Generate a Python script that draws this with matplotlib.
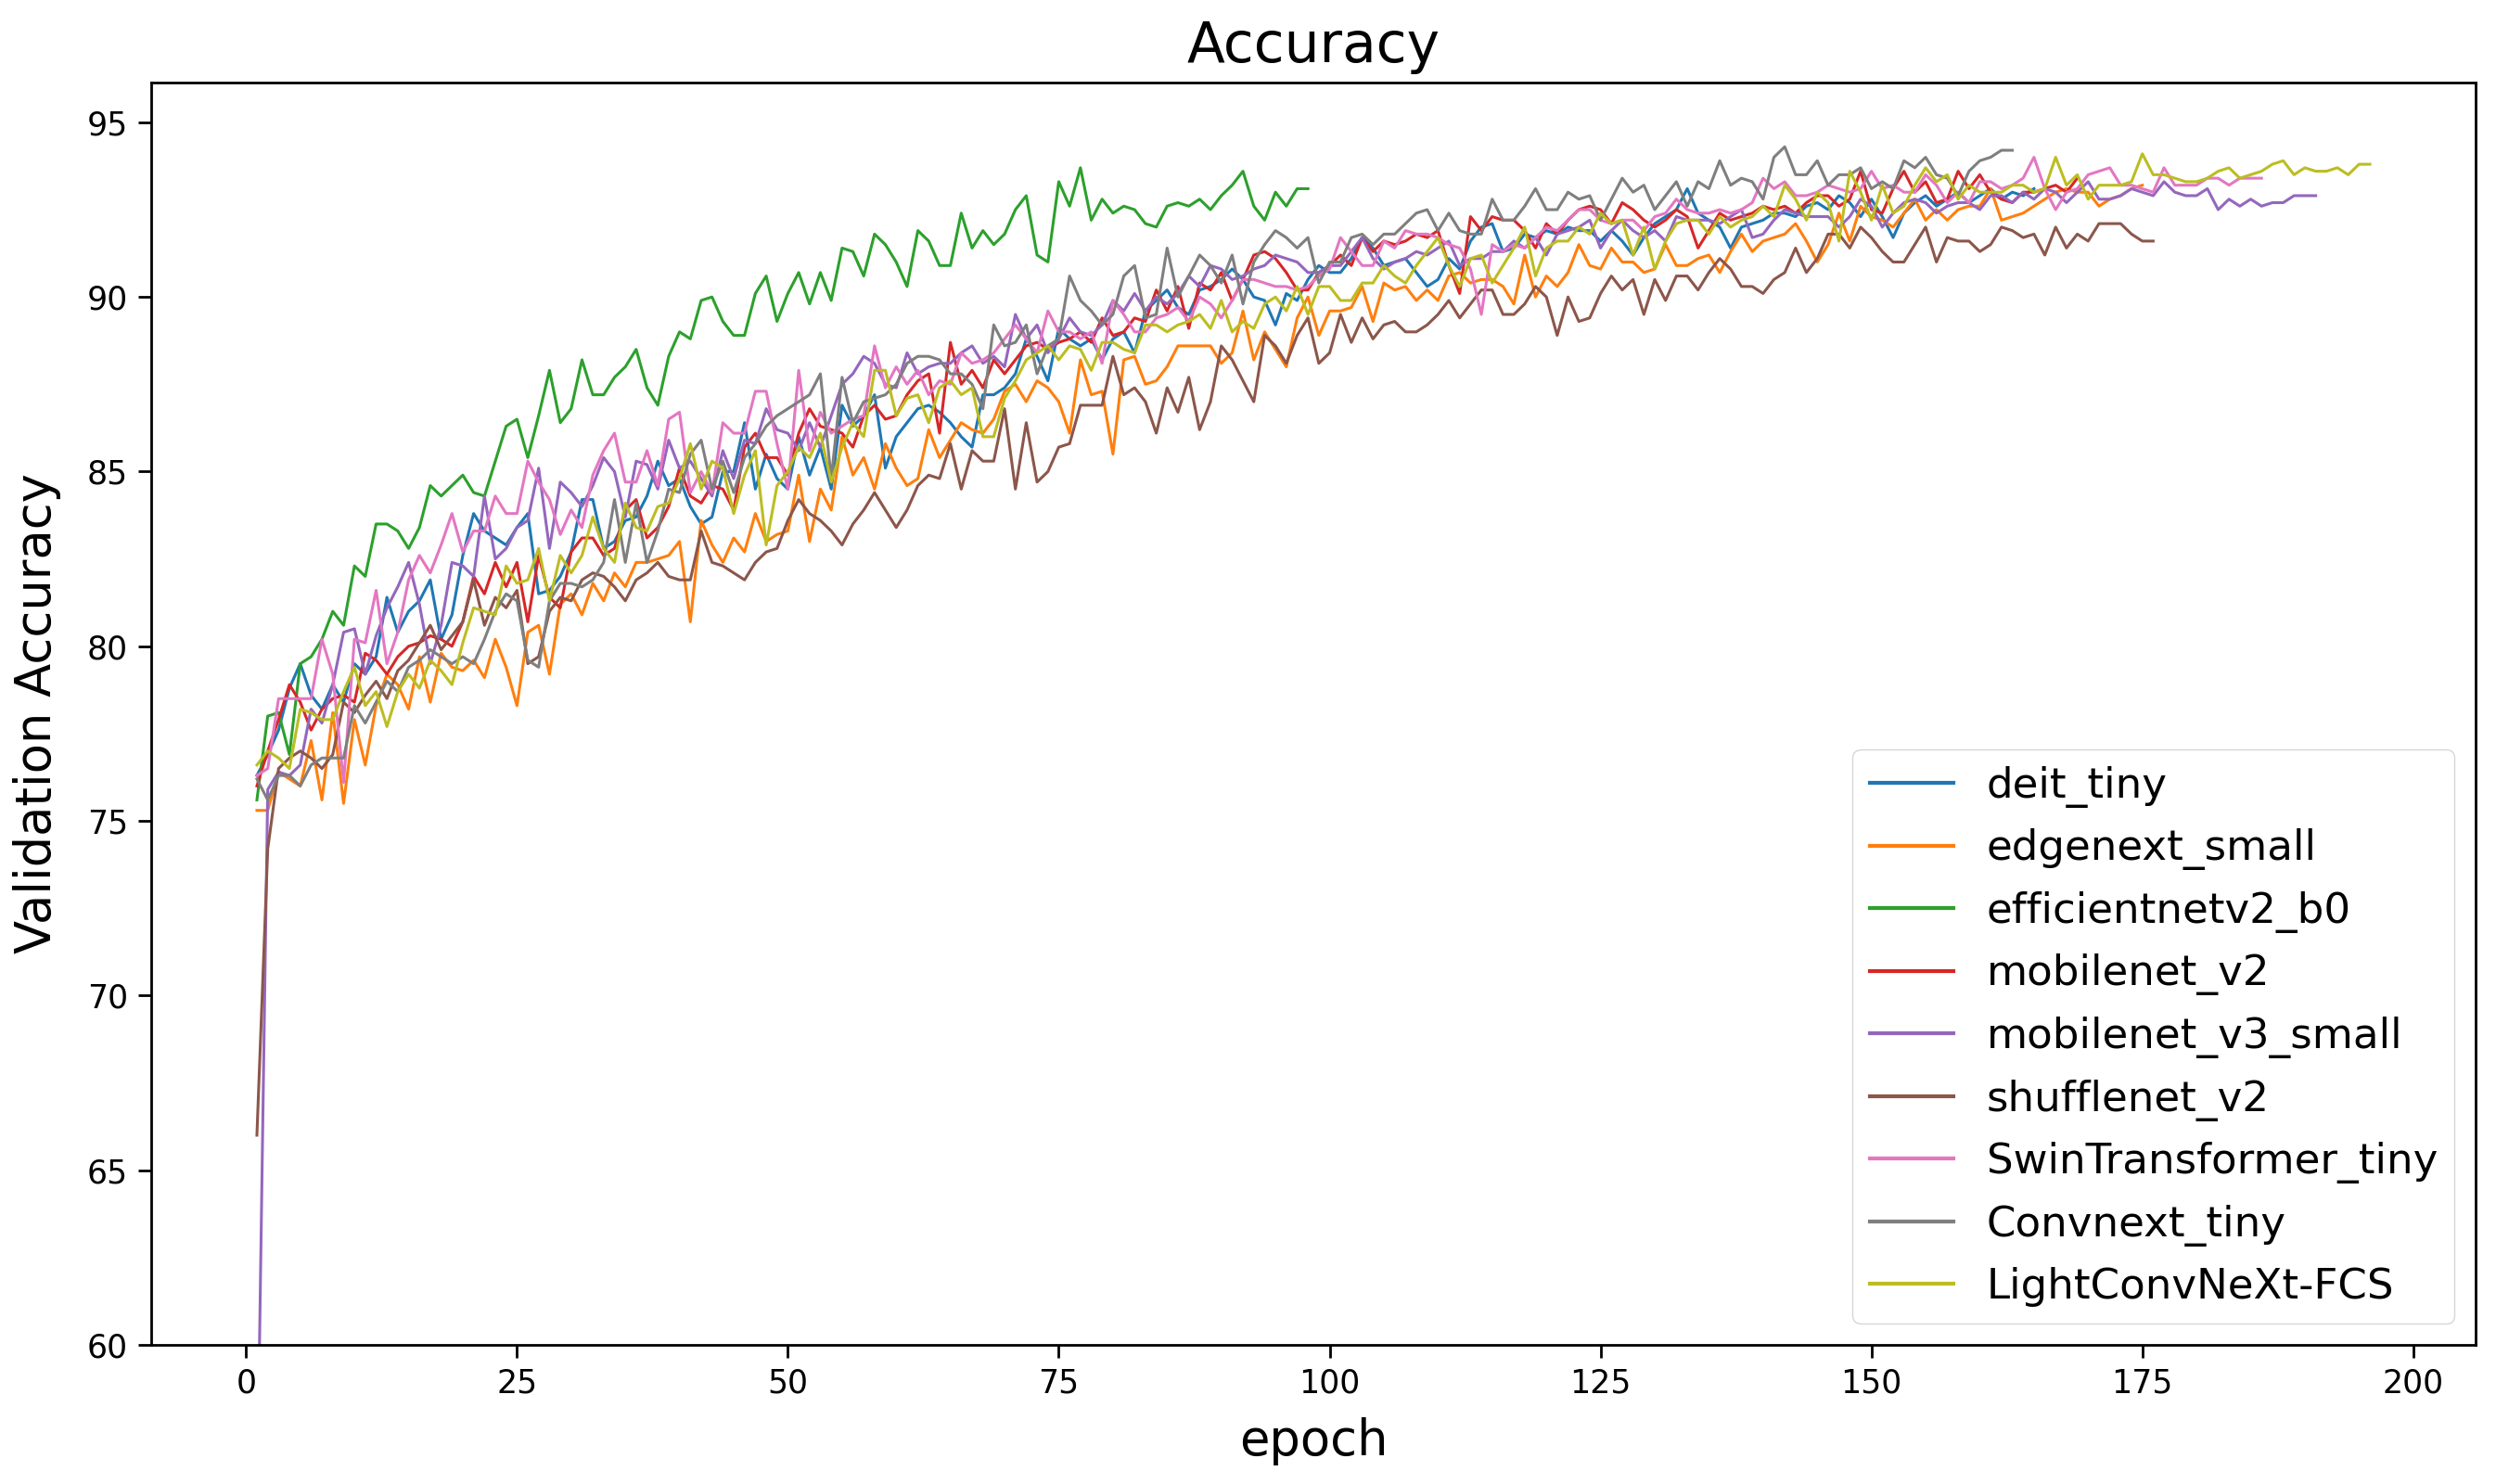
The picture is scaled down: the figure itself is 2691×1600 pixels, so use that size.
import matplotlib
matplotlib.use("Agg")
import matplotlib.pyplot as plt

# validation accuracy per epoch
deit_tiny = [
    76.3, 76.9, 77.6, 78.8, 79.5, 78.6, 78.2, 78.9, 78.4, 79.5,
    79.2, 79.7, 81.4, 80.4, 81.0, 81.3, 81.9, 80.2, 80.9, 82.6,
    83.8, 83.3, 83.1, 82.9, 83.4, 83.8, 81.5, 81.6, 82.0, 82.7,
    84.2, 84.2, 82.8, 83.0, 83.6, 83.7, 84.3, 85.3, 84.6, 84.8,
    84.0, 83.5, 83.7, 85.0, 85.0, 86.4, 84.5, 85.5, 84.8, 84.5,
    86.0, 84.9, 85.7, 84.5, 86.9, 86.3, 86.6, 87.2, 85.1, 86.0,
    86.4, 86.8, 86.9, 86.7, 86.4, 86.0, 85.7, 87.2, 87.2, 87.4,
    87.8, 88.8, 88.3, 87.6, 89.1, 88.8, 88.6, 88.8, 88.2, 88.8,
    89.0, 88.4, 89.6, 89.9, 90.2, 89.7, 89.5, 90.2, 90.3, 90.5,
    90.8, 90.5, 90.0, 89.9, 89.2, 90.1, 89.9, 90.5, 90.9, 90.7,
    90.7, 91.1, 91.7, 91.4, 90.9, 91.0, 91.1, 90.7, 90.3, 90.5,
    91.1, 90.8, 91.6, 92.0, 92.1, 91.3, 91.4, 91.8, 91.7, 91.9,
    91.8, 92.0, 91.9, 91.9, 91.6, 91.9, 91.6, 91.2, 91.7, 92.1,
    92.3, 92.5, 93.1, 92.4, 92.2, 92.0, 91.4, 92.0, 92.1, 92.2,
    92.4, 92.4, 92.3, 92.6, 92.7, 92.5, 92.9, 92.7, 92.3, 92.8,
    92.3, 91.7, 92.4, 92.7, 92.9, 92.6, 92.8, 93.0, 92.7, 92.9,
    93.1, 92.8, 93.0, 92.9, 93.1,
]

edgenext_small = [
    75.3, 75.3, 76.4, 76.2, 76.0, 77.3, 75.6, 78.1, 75.5, 77.9,
    76.6, 78.3, 79.2, 78.9, 78.2, 79.7, 78.4, 79.8, 79.4, 79.3,
    79.6, 79.1, 80.2, 79.4, 78.3, 80.4, 80.6, 79.2, 81.2, 81.5,
    80.9, 81.8, 81.3, 82.1, 81.7, 82.4, 82.4, 82.5, 82.6, 83.0,
    80.7, 83.6, 82.9, 82.4, 83.1, 82.7, 83.8, 83.0, 83.2, 83.3,
    84.9, 83.0, 84.5, 83.9, 86.0, 84.9, 85.4, 84.5, 85.8, 85.1,
    84.6, 84.8, 86.2, 85.4, 85.9, 86.4, 86.2, 86.1, 86.5, 87.3,
    87.5, 87.0, 87.6, 87.4, 87.0, 86.1, 88.2, 87.2, 87.3, 85.5,
    88.2, 88.3, 87.5, 87.6, 88.0, 88.6, 88.6, 88.6, 88.6, 88.1,
    88.4, 89.6, 88.2, 89.0, 88.5, 88.0, 89.4, 90.0, 88.9, 89.6,
    89.6, 89.7, 90.3, 89.3, 90.4, 90.2, 90.3, 89.9, 90.2, 89.9,
    90.6, 90.7, 90.4, 90.5, 90.5, 90.3, 89.8, 91.2, 90.0, 90.6,
    90.3, 90.7, 91.5, 90.9, 90.8, 91.4, 91.0, 91.0, 90.7, 90.8,
    91.5, 90.9, 90.9, 91.1, 91.2, 90.7, 91.3, 91.8, 91.3, 91.6,
    91.7, 91.8, 92.1, 91.6, 91.0, 91.5, 92.4, 91.6, 92.6, 92.3,
    92.2, 92.0, 92.4, 92.8, 92.2, 92.5, 92.2, 92.5, 92.6, 92.6,
    93.1, 92.2, 92.3, 92.4, 92.6, 92.8, 93.0, 93.1, 93.0, 93.0,
    92.6, 92.8, 92.9, 93.1, 93.2,
]

efficientnetv2_b0 = [
    75.6, 78.0, 78.1, 76.9, 79.5, 79.7, 80.2, 81.0, 80.6, 82.3,
    82.0, 83.5, 83.5, 83.3, 82.8, 83.4, 84.6, 84.3, 84.6, 84.9,
    84.4, 84.3, 85.3, 86.3, 86.5, 85.4, 86.6, 87.9, 86.4, 86.8,
    88.2, 87.2, 87.2, 87.7, 88.0, 88.5, 87.4, 86.9, 88.3, 89.0,
    88.8, 89.9, 90.0, 89.3, 88.9, 88.9, 90.1, 90.6, 89.3, 90.1,
    90.7, 89.8, 90.7, 89.9, 91.4, 91.3, 90.6, 91.8, 91.5, 91.0,
    90.3, 91.9, 91.6, 90.9, 90.9, 92.4, 91.4, 91.9, 91.5, 91.8,
    92.5, 92.9, 91.2, 91.0, 93.3, 92.6, 93.7, 92.2, 92.8, 92.4,
    92.6, 92.5, 92.1, 92.0, 92.6, 92.7, 92.6, 92.8, 92.5, 92.9,
    93.2, 93.6, 92.6, 92.2, 93.0, 92.6, 93.1, 93.1,
]

mobilenet_v2 = [
    76.0, 77.0, 77.9, 78.9, 78.4, 77.6, 78.2, 78.5, 78.6, 78.4,
    79.8, 79.6, 79.2, 79.7, 80.0, 80.1, 80.3, 80.2, 80.0, 80.7,
    82.0, 81.5, 82.4, 81.7, 82.4, 80.7, 82.6, 81.4, 81.1, 82.7,
    83.1, 83.1, 82.6, 82.8, 83.9, 84.2, 83.1, 83.4, 84.0, 85.1,
    84.3, 84.1, 84.6, 84.5, 83.9, 85.7, 86.1, 85.4, 85.4, 84.9,
    86.1, 86.8, 86.3, 86.2, 86.1, 85.7, 86.6, 86.9, 86.5, 86.6,
    87.2, 87.6, 87.8, 86.1, 88.7, 87.5, 87.9, 87.4, 88.2, 87.8,
    88.2, 88.6, 88.7, 88.5, 88.7, 88.8, 89.0, 88.7, 89.4, 88.9,
    89.0, 89.4, 89.3, 90.2, 89.6, 90.3, 89.1, 90.4, 90.2, 90.7,
    89.9, 90.5, 91.2, 91.3, 91.1, 90.7, 90.2, 90.2, 90.7, 90.9,
    91.2, 90.9, 91.7, 91.3, 91.6, 91.5, 91.6, 91.8, 91.7, 91.9,
    90.9, 90.1, 92.3, 91.9, 92.3, 92.2, 92.2, 91.9, 91.4, 92.1,
    91.8, 92.2, 92.5, 92.6, 92.5, 92.1, 92.7, 92.5, 92.2, 92.0,
    92.2, 92.5, 92.3, 91.4, 91.9, 92.4, 92.2, 92.3, 92.4, 92.6,
    92.5, 92.6, 92.4, 92.7, 92.9, 92.9, 92.6, 92.8, 93.6, 92.5,
    92.4, 93.1, 93.6, 93.0, 93.3, 92.7, 92.8, 93.6, 93.1, 93.5,
    93.0, 92.8, 92.7, 93.0, 93.0, 93.1, 93.2, 93.0, 93.4,
]

mobilenet_v3_small = [
    55.0, 75.9, 76.4, 76.3, 76.6, 78.2, 77.8, 78.9, 80.4, 80.5,
    79.2, 80.3, 81.1, 81.7, 82.4, 81.2, 79.5, 80.6, 82.4, 82.3,
    82.0, 84.3, 82.5, 82.8, 83.4, 83.6, 85.1, 82.8, 84.7, 84.4,
    84.0, 84.6, 85.4, 85.0, 83.7, 85.3, 85.2, 84.5, 85.9, 85.1,
    85.3, 84.8, 84.3, 85.6, 84.8, 85.9, 85.8, 86.8, 86.2, 86.1,
    85.6, 86.4, 85.7, 86.6, 87.5, 87.8, 88.3, 88.1, 87.5, 87.4,
    88.4, 87.8, 88.0, 88.1, 88.1, 88.4, 88.6, 88.1, 88.3, 88.0,
    89.5, 88.8, 89.2, 88.4, 88.8, 89.4, 89.0, 88.9, 89.2, 89.9,
    89.6, 90.1, 89.6, 90.0, 89.8, 90.1, 90.6, 90.3, 90.9, 90.8,
    90.5, 90.6, 90.8, 90.9, 91.2, 91.1, 91.0, 90.7, 90.7, 90.9,
    90.9, 91.3, 91.7, 91.1, 90.8, 91.0, 91.1, 91.3, 91.2, 91.4,
    91.6, 90.9, 91.1, 91.1, 91.3, 91.3, 91.6, 91.4, 91.7, 91.2,
    91.8, 91.9, 92.0, 92.2, 91.4, 91.9, 92.2, 91.9, 91.7, 91.9,
    91.6, 92.3, 92.2, 92.2, 92.2, 92.1, 92.3, 92.5, 91.7, 91.8,
    92.2, 92.5, 92.4, 92.3, 92.3, 92.3, 92.0, 92.3, 92.8, 92.6,
    92.0, 92.4, 92.7, 92.8, 92.7, 92.4, 92.6, 92.7, 92.7, 92.5,
    92.9, 92.9, 92.7, 93.0, 92.8, 93.1, 93.0, 92.7, 93.0, 93.3,
    92.8, 92.8, 92.9, 93.1, 93.0, 92.9, 93.3, 93.0, 92.9, 92.9,
    93.1, 92.5, 92.8, 92.6, 92.8, 92.6, 92.7, 92.7, 92.9, 92.9,
    92.9,
]

shufflenet_v2 = [
    66.0, 74.2, 76.5, 76.8, 77.0, 76.8, 76.5, 76.9, 78.4, 78.1,
    78.6, 79.0, 78.5, 79.3, 79.6, 80.1, 80.6, 79.9, 80.3, 80.7,
    81.9, 80.6, 81.4, 81.1, 81.6, 79.5, 79.7, 81.0, 81.4, 81.3,
    81.9, 82.1, 82.0, 81.7, 81.3, 81.9, 82.1, 82.4, 82.0, 81.9,
    81.9, 83.3, 82.4, 82.3, 82.1, 81.9, 82.4, 82.7, 82.8, 83.6,
    84.2, 83.8, 83.6, 83.3, 82.9, 83.5, 83.9, 84.4, 83.9, 83.4,
    83.9, 84.6, 84.9, 84.8, 85.8, 84.5, 85.6, 85.3, 85.3, 86.8,
    84.5, 86.4, 84.7, 85.0, 85.7, 85.8, 86.9, 86.9, 86.9, 88.3,
    87.2, 87.4, 87.0, 86.1, 87.4, 86.7, 87.7, 86.2, 87.0, 88.6,
    88.2, 87.6, 87.0, 88.9, 88.6, 88.1, 88.9, 89.4, 88.1, 88.4,
    89.5, 88.7, 89.4, 88.8, 89.2, 89.3, 89.0, 89.0, 89.2, 89.5,
    89.9, 89.4, 89.8, 90.2, 90.2, 89.5, 89.5, 89.8, 90.3, 90.0,
    88.9, 90.0, 89.3, 89.4, 90.1, 90.6, 90.2, 90.5, 89.5, 90.5,
    89.9, 90.6, 90.6, 90.2, 90.7, 91.1, 90.8, 90.3, 90.3, 90.1,
    90.5, 90.7, 91.4, 90.7, 91.1, 91.8, 91.8, 91.4, 92.0, 91.7,
    91.3, 91.0, 91.0, 91.5, 92.0, 91.0, 91.7, 91.6, 91.6, 91.3,
    91.5, 92.0, 91.9, 91.7, 91.8, 91.2, 92.0, 91.4, 91.8, 91.6,
    92.1, 92.1, 92.1, 91.8, 91.6, 91.6,
]

swin_tiny = [
    76.3, 76.5, 78.5, 78.5, 78.5, 78.5, 80.2, 79.2, 76.1, 80.2,
    80.1, 81.6, 79.5, 80.4, 81.9, 82.6, 82.1, 82.9, 83.8, 82.7,
    83.3, 83.3, 84.3, 83.8, 83.8, 85.3, 84.7, 84.2, 83.2, 83.9,
    83.4, 84.9, 85.6, 86.1, 84.7, 84.7, 85.6, 84.6, 86.5, 86.7,
    84.4, 85.0, 84.4, 86.4, 86.1, 86.1, 87.3, 87.3, 85.8, 84.5,
    87.9, 85.6, 86.7, 86.1, 86.3, 86.5, 86.6, 88.6, 87.4, 88.0,
    87.5, 87.9, 87.2, 87.6, 87.5, 88.4, 88.1, 88.2, 88.4, 88.8,
    89.2, 88.8, 88.4, 89.6, 89.0, 89.0, 88.8, 89.0, 88.1, 89.9,
    89.5, 89.0, 89.0, 89.4, 89.5, 89.7, 89.3, 90.0, 89.8, 89.4,
    89.9, 90.5, 90.5, 90.4, 90.3, 90.3, 90.2, 90.3, 90.6, 90.8,
    91.7, 91.3, 90.9, 90.9, 91.6, 91.4, 91.9, 91.8, 91.8, 91.7,
    91.5, 91.4, 90.8, 89.5, 91.5, 91.3, 91.5, 91.4, 91.7, 92.0,
    91.9, 92.2, 92.5, 92.5, 92.2, 92.1, 92.2, 92.2, 91.9, 92.3,
    92.4, 92.8, 92.5, 92.4, 92.4, 92.5, 92.4, 92.5, 92.7, 93.4,
    93.1, 93.3, 92.9, 92.9, 93.0, 93.2, 93.1, 93.0, 93.1, 93.6,
    93.1, 93.2, 93.0, 93.0, 93.5, 93.2, 92.7, 93.0, 92.7, 93.3,
    93.3, 93.1, 93.2, 93.4, 94.0, 93.1, 92.5, 93.0, 93.1, 93.5,
    93.6, 93.7, 93.2, 93.2, 93.1, 93.0, 93.7, 93.2, 93.2, 93.2,
    93.4, 93.4, 93.2, 93.4, 93.4, 93.4,
]

convnext_tiny = [
    76.2, 75.6, 76.3, 76.3, 76.0, 76.6, 76.8, 76.8, 76.8, 78.3,
    77.8, 78.4, 79.0, 78.7, 79.4, 79.6, 79.9, 79.7, 79.5, 79.7,
    79.5, 80.2, 81.0, 81.5, 81.3, 79.6, 79.4, 81.3, 81.8, 81.8,
    81.7, 81.9, 82.4, 84.2, 82.4, 84.1, 82.4, 83.3, 84.5, 84.4,
    85.5, 85.9, 84.5, 85.3, 84.4, 85.4, 85.8, 86.3, 86.6, 86.8,
    87.0, 87.2, 87.8, 84.8, 87.7, 86.4, 87.0, 87.1, 87.2, 87.5,
    88.1, 88.3, 88.3, 88.2, 87.8, 87.8, 87.5, 86.8, 89.2, 88.6,
    88.7, 89.2, 87.8, 88.6, 88.8, 90.6, 89.9, 89.6, 89.2, 89.5,
    90.6, 90.9, 89.4, 89.5, 91.4, 90.0, 90.6, 91.2, 90.9, 90.4,
    91.2, 89.8, 91.0, 91.5, 91.9, 91.7, 91.4, 91.7, 90.4, 91.0,
    91.0, 91.7, 91.8, 91.5, 91.8, 91.8, 92.1, 92.4, 92.5, 91.9,
    92.4, 91.9, 91.8, 91.8, 92.8, 92.2, 92.2, 92.6, 93.1, 92.5,
    92.5, 93.0, 92.8, 92.9, 92.2, 92.8, 93.4, 93.0, 93.2, 92.5,
    92.9, 93.3, 92.6, 93.3, 93.1, 93.9, 93.2, 93.4, 93.3, 92.8,
    94.0, 94.3, 93.5, 93.5, 93.9, 93.2, 93.5, 93.5, 93.7, 93.1,
    93.3, 93.1, 93.9, 93.7, 94.0, 93.5, 93.4, 92.9, 93.6, 93.9,
    94.0, 94.2, 94.2,
]

lightconvnext_fcs = [
    76.6, 77.0, 76.8, 76.5, 78.2, 78.1, 77.9, 77.9, 78.7, 79.4,
    78.3, 78.7, 77.7, 78.7, 79.2, 78.8, 79.6, 79.3, 78.9, 80.1,
    81.1, 81.0, 80.9, 82.3, 81.8, 81.9, 82.8, 81.3, 82.6, 82.1,
    82.6, 83.7, 82.8, 82.4, 84.1, 83.4, 83.3, 84.0, 84.1, 84.8,
    85.8, 84.5, 85.3, 85.1, 83.8, 84.9, 85.6, 82.9, 84.6, 85.0,
    85.7, 85.4, 86.1, 84.7, 85.7, 86.4, 86.0, 87.9, 87.9, 86.6,
    87.1, 87.2, 86.4, 87.4, 87.6, 87.2, 87.4, 86.0, 86.0, 87.1,
    87.6, 88.2, 88.4, 88.6, 88.2, 88.6, 88.5, 87.9, 88.7, 88.7,
    88.5, 88.4, 89.2, 89.2, 89.0, 89.2, 89.3, 89.5, 89.1, 89.9,
    89.0, 89.3, 89.1, 89.8, 90.0, 89.6, 90.3, 89.5, 90.3, 90.3,
    89.9, 89.9, 90.4, 90.4, 90.9, 90.6, 90.4, 90.9, 91.3, 91.7,
    90.9, 90.3, 91.1, 91.2, 90.4, 90.9, 91.4, 92.0, 90.6, 91.4,
    91.6, 91.6, 92.0, 91.8, 92.4, 92.1, 92.2, 91.2, 92.0, 90.8,
    91.6, 92.1, 92.2, 92.2, 91.8, 92.3, 92.0, 92.2, 92.3, 92.6,
    92.3, 93.2, 92.8, 92.2, 93.0, 92.7, 91.6, 93.6, 93.0, 92.2,
    93.2, 92.4, 92.6, 93.2, 93.7, 93.3, 93.5, 92.8, 93.2, 93.0,
    93.0, 93.0, 93.2, 93.2, 93.0, 93.1, 94.0, 93.2, 93.5, 92.8,
    93.2, 93.2, 93.2, 93.3, 94.1, 93.5, 93.5, 93.4, 93.3, 93.3,
    93.4, 93.6, 93.7, 93.4, 93.5, 93.6, 93.8, 93.9, 93.5, 93.7,
    93.6, 93.6, 93.7, 93.5, 93.8, 93.8,
]

series = [
    ("deit_tiny", deit_tiny),
    ("edgenext_small", edgenext_small),
    ("efficientnetv2_b0", efficientnetv2_b0),
    ("mobilenet_v2", mobilenet_v2),
    ("mobilenet_v3_small", mobilenet_v3_small),
    ("shufflenet_v2", shufflenet_v2),
    ("SwinTransformer_tiny", swin_tiny),
    ("Convnext_tiny", convnext_tiny),
    ("LightConvNeXt-FCS", lightconvnext_fcs),
]

fig = plt.figure(figsize=(26.91, 16), dpi=100)
ax = fig.add_axes([0.0606, 0.0938, 0.9312, 0.8506])

for name, acc in series:
    epochs = range(1, len(acc) + 1)
    ax.plot(epochs, acc, linewidth=2.2, label=name)

ax.set_ylim(60, 96.14)
ax.set_title("Accuracy", fontsize=43, pad=16)
ax.set_xlabel("epoch", fontsize=38, labelpad=14)
ax.set_ylabel("Validation Accuracy", fontsize=38, labelpad=20)
ax.tick_params(labelsize=25, width=2, length=10, pad=8)
for s in ax.spines.values():
    s.set_linewidth(2)

leg = ax.legend(loc="lower right", fontsize=32.5)
for h in leg.get_lines():
    h.set_linewidth(3)

fig.savefig("out.png", dpi=100)
